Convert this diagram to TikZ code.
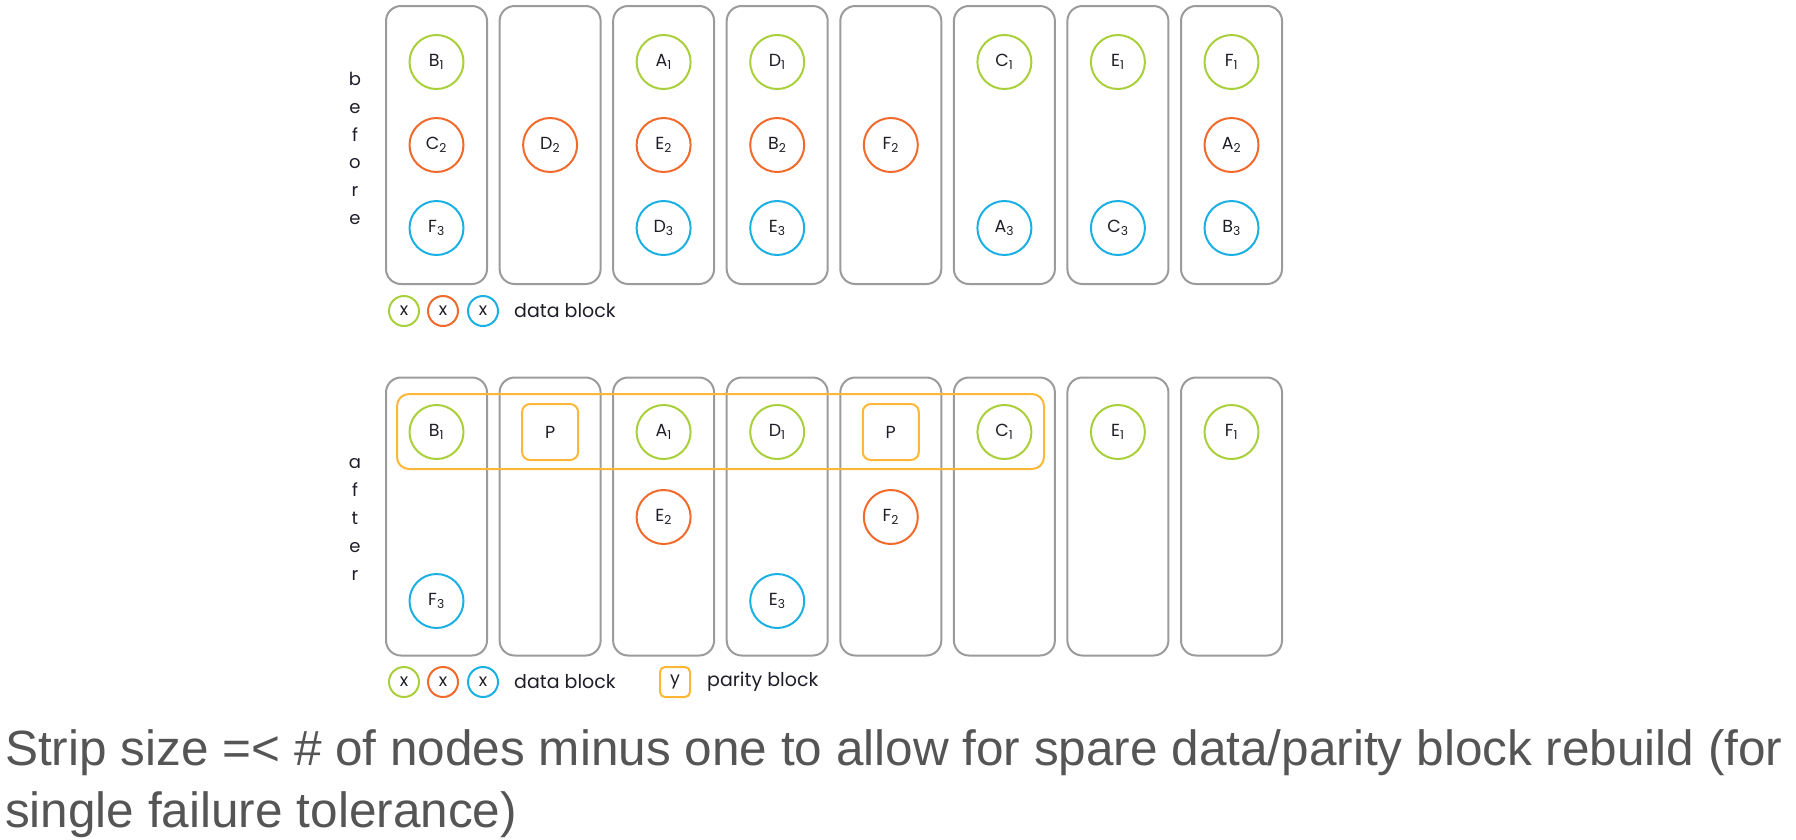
\documentclass[tikz,border=0pt]{standalone}
\usepackage{fontspec}
\setmainfont{Poppins}
\newfontfamily\capfont{Liberation Sans}
\usepackage{tikz}
\usetikzlibrary{positioning, calc}

\definecolor{grn}{HTML}{A9CF3A}
\definecolor{org}{HTML}{F26A2B}
\definecolor{blu}{HTML}{1BB0E3}
\definecolor{par}{HTML}{FBB735}
\definecolor{diskgray}{HTML}{9B9B9B}
\definecolor{ink}{HTML}{1E1E28}
\definecolor{capgray}{HTML}{555555}

\tikzset{
  disk/.style={draw=diskgray, line width=2pt, rounded corners=15pt,
    minimum width=101pt, minimum height=278pt, inner sep=0pt},
  dblk/.style={draw=#1, circle, line width=2pt, minimum size=54pt, inner sep=0pt,
    text=ink, font=\fontsize{17.5}{20}\selectfont},
  pblk/.style={draw=par, line width=2pt, rounded corners=8pt, minimum size=56pt,
    inner sep=0pt, text=ink, font=\fontsize{17.5}{20}\selectfont},
  legc/.style={draw=#1, circle, line width=2pt, minimum size=30pt, inner sep=0pt,
    text=ink, font=\fontsize{17.5}{20}\selectfont},
  legtxt/.style={anchor=west, text=ink, font=\fontsize{19}{22}\selectfont, inner sep=0pt},
  sidetxt/.style={align=center, text=ink, font=\fontsize{18}{27.8}\selectfont, inner sep=0pt}
}
\newcommand{\blk}[2]{#1\textsubscript{#2}}

\begin{document}
\begin{tikzpicture}[x=1pt, y=-1pt]
  \useasboundingbox (0,0) rectangle (1796,839);

  % disks, before and after
  \foreach \i/\x in {1/436.5, 2/550.1, 3/663.6, 4/777.2, 5/890.8, 6/1004.4, 7/1117.9, 8/1231.5}{
    \node[disk] (top\i) at (\x,145) {};
    \node[disk] (bot\i) at (\x,516.5) {};
  }

  \node[sidetxt] (wbefore) at (355,148.5) {b\\e\\f\\o\\r\\e};
  \node[sidetxt] (wafter) at (355,519.5) {a\\f\\t\\e\\r};

  % before
  \node[dblk=grn] (tB1) at (436.5,62) {\blk{B}{1}};
  \node[dblk=org] (tC2) at (436.5,145) {\blk{C}{2}};
  \node[dblk=blu] (tF3) at (436.5,228) {\blk{F}{3}};
  \node[dblk=org] (tD2) at (550.1,145) {\blk{D}{2}};
  \node[dblk=grn] (tA1) at (663.6,62) {\blk{A}{1}};
  \node[dblk=org] (tE2) at (663.6,145) {\blk{E}{2}};
  \node[dblk=blu] (tD3) at (663.6,228) {\blk{D}{3}};
  \node[dblk=grn] (tD1) at (777.2,62) {\blk{D}{1}};
  \node[dblk=org] (tB2) at (777.2,145) {\blk{B}{2}};
  \node[dblk=blu] (tE3) at (777.2,228) {\blk{E}{3}};
  \node[dblk=org] (tF2) at (890.8,145) {\blk{F}{2}};
  \node[dblk=grn] (tC1) at (1004.4,62) {\blk{C}{1}};
  \node[dblk=blu] (tA3) at (1004.4,228) {\blk{A}{3}};
  \node[dblk=grn] (tE1) at (1117.9,62) {\blk{E}{1}};
  \node[dblk=blu] (tC3) at (1117.9,228) {\blk{C}{3}};
  \node[dblk=grn] (tF1) at (1231.5,62) {\blk{F}{1}};
  \node[dblk=org] (tA2) at (1231.5,145) {\blk{A}{2}};
  \node[dblk=blu] (tB3) at (1231.5,228) {\blk{B}{3}};

  % legend (before)
  \node[legc=grn] (lg1) at (404,311) {x};
  \node[legc=org] (lo1) at (443,311) {x};
  \node[legc=blu] (lb1) at (483,311) {x};
  \node[legtxt] (ld1) at (514,311) {data block};

  % stripe
  \draw[par, line width=2pt, rounded corners=12pt] (397,394) rectangle (1044,469);

  % after
  \node[dblk=grn] (aB1) at (436.5,432) {\blk{B}{1}};
  \node[dblk=blu] (aF3) at (436.5,601) {\blk{F}{3}};
  \node[pblk] (aP1) at (550.1,432) {P};
  \node[dblk=grn] (aA1) at (663.6,432) {\blk{A}{1}};
  \node[dblk=org] (aE2) at (663.6,517) {\blk{E}{2}};
  \node[dblk=grn] (aD1) at (777.2,432) {\blk{D}{1}};
  \node[dblk=blu] (aE3) at (777.2,601) {\blk{E}{3}};
  \node[pblk] (aP2) at (890.8,432) {P};
  \node[dblk=org] (aF2) at (890.8,517) {\blk{F}{2}};
  \node[dblk=grn] (aC1) at (1004.4,432) {\blk{C}{1}};
  \node[dblk=grn] (aE1) at (1117.9,432) {\blk{E}{1}};
  \node[dblk=grn] (aF1) at (1231.5,432) {\blk{F}{1}};

  % legend (after)
  \node[legc=grn] (lg2) at (404,682) {x};
  \node[legc=org] (lo2) at (443,682) {x};
  \node[legc=blu] (lb2) at (483,682) {x};
  \node[legtxt] (ld2) at (514,682) {data block};
  \node[pblk, minimum size=30pt, rounded corners=5pt] (lp2) at (675,682) {y};
  \node[legtxt] (lpt2) at (707,682) {parity block};

  % caption
  \node[anchor=base west, inner sep=0pt, text=capgray, font=\capfont\fontsize{49.5}{62}\selectfont]
    (cap1) at (5,765) {Strip size =< \# of nodes minus one to allow for spare data/parity block rebuild (for};
  \node[anchor=base west, inner sep=0pt, text=capgray, font=\capfont\fontsize{49.5}{62}\selectfont]
    (cap2) at (5,827) {single failure tolerance)};
\end{tikzpicture}
\end{document}
